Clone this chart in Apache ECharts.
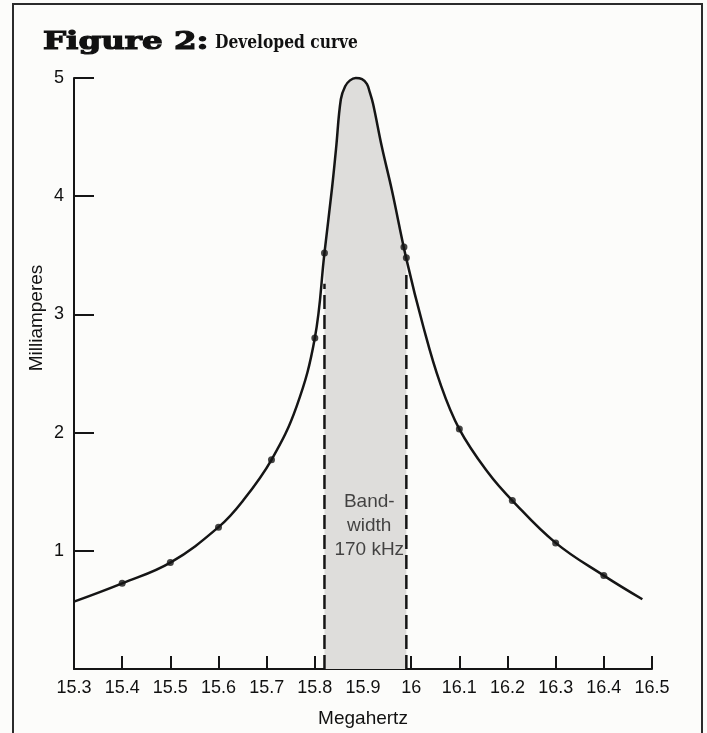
<!DOCTYPE html>
<html>
<head>
<meta charset="utf-8">
<script src="https://cdn.jsdelivr.net/npm/echarts@6/dist/echarts.min.js"></script>
<style>
  html, body { margin: 0; padding: 0; background: #fcfcfa; }
  #chart { width: 707px; height: 733px; }
</style>
</head>
<body>
<div id="chart"></div>
<script>
// Resonance curve: current (mA) against frequency (MHz)
const curveMHz = [15.30, 15.40, 15.50, 15.60, 15.65, 15.71, 15.762,
                  15.80, 15.82, 15.836, 15.844, 15.854, 15.863, 15.873, 15.885, 15.898, 15.908,
                  15.914, 15.921, 15.939, 15.960, 15.99, 16.025, 16.06, 16.10, 16.16, 16.21,
                  16.30, 16.40, 16.48];
const curveMA  = [0.57, 0.725, 0.90, 1.20, 1.42, 1.77, 2.22,
                  2.80, 3.52, 4.08, 4.40, 4.82, 4.93, 4.98, 5.00, 4.99, 4.95,
                  4.88, 4.78, 4.42, 4.05, 3.47, 2.90, 2.42, 2.03, 1.66, 1.425,
                  1.067, 0.79, 0.59];

// Measured points
const pointMHz = [15.40, 15.50, 15.60, 15.71, 15.80, 15.82, 15.985, 15.99, 16.10, 16.21, 16.30, 16.40];
const pointMA  = [0.725, 0.90, 1.20, 1.77, 2.8, 3.52, 3.57, 3.48, 2.03, 1.425, 1.067, 0.79];

// Bandwidth edges (MHz) and the height where each dashed marker stops
const bandEdgeMHz = [15.82, 15.99];
const bandDashTopMA = [3.26, 3.38];
const bandLabel = 'Band-\nwidth\n170 kHz';
const bandLabelAt = [15.913, 1.21];

const xTicks = { min: 15.3, max: 16.5, step: 0.1 };
const yTicks = { min: 0, max: 5, step: 1 };

const curveData = curveMHz.map((f, i) => [f, curveMA[i]]);
const bandData = curveData.filter(p => p[0] >= bandEdgeMHz[0] && p[0] <= bandEdgeMHz[1]);
const pointData = pointMHz.map((f, i) => [f, pointMA[i]]);

const ink = '#151515';
const sans = '"Liberation Sans", Arial, sans-serif';

const chart = echarts.init(document.getElementById('chart'), null, { renderer: 'canvas' });

const dashSeries = bandEdgeMHz.map((f, i) => ({
  type: 'line',
  data: [[f, 0], [f, bandDashTopMA[i]]],
  symbol: 'none',
  lineStyle: { color: ink, width: 2.5, type: [14, 6] },
  z: 3,
  silent: true
}));

chart.setOption({
  backgroundColor: '#fcfcfa',
  animation: false,
  grid: { left: 74, right: 55, top: 78, bottom: 55 },
  xAxis: {
    type: 'value',
    min: xTicks.min, max: xTicks.max, interval: xTicks.step,
    axisLine: { lineStyle: { color: ink, width: 2 } },
    axisTick: { inside: true, length: 13, lineStyle: { color: ink, width: 2 } },
    splitLine: { show: false },
    axisLabel: {
      color: '#111', fontFamily: sans, fontSize: 18, margin: 10,
      formatter: v => String(Number(v.toFixed(1)))
    },
    name: 'Megahertz', nameLocation: 'middle', nameGap: 40,
    nameTextStyle: { color: '#111', fontFamily: sans, fontSize: 19 }
  },
  yAxis: {
    type: 'value',
    min: yTicks.min, max: yTicks.max, interval: yTicks.step,
    axisLine: { show: true, lineStyle: { color: ink, width: 2 } },
    axisTick: { show: true, inside: true, length: 20, lineStyle: { color: ink, width: 2 } },
    splitLine: { show: false },
    axisLabel: {
      color: '#111', fontFamily: sans, fontSize: 18, margin: 10,
      formatter: v => (v === 0 ? '' : String(v))
    }
  },
  graphic: [
    // figure frame
    { type: 'polyline', shape: { points: [[13, 733], [13, 4], [702, 4], [702, 733]] },
      style: { stroke: '#2b2b2b', lineWidth: 2, fill: null }, silent: true },
    // heading
    { type: 'text', x: 43, y: 42, scaleX: 1.3,
      style: { text: 'Figure 2:', fill: '#111', font: 'bold 25px "DejaVu Serif", serif',
               verticalAlign: 'middle', stroke: '#111', lineWidth: 1.2 } },
    { type: 'text', x: 215, y: 43, scaleX: 0.86,
      style: { text: 'Developed curve', fill: '#111', font: 'bold 18px "DejaVu Serif", serif',
               verticalAlign: 'middle' } },
    // y-axis title
    { type: 'text', x: 37, y: 318, rotation: Math.PI / 2,
      style: { text: 'Milliamperes', fill: '#111', font: '19px "Liberation Sans", Arial, sans-serif',
               align: 'center', verticalAlign: 'middle' } }
  ],
  series: [
    {
      type: 'line',
      data: bandData,
      smooth: 0.4,
      symbol: 'none',
      lineStyle: { width: 0 },
      areaStyle: { color: '#dedddb', opacity: 1 },
      z: 1,
      silent: true
    },
    ...dashSeries,
    {
      type: 'line',
      data: curveData,
      smooth: 0.4,
      symbol: 'none',
      clip: false,
      lineStyle: { color: ink, width: 2.5 },
      z: 4,
      silent: true
    },
    {
      type: 'scatter',
      data: pointData,
      symbol: 'circle',
      symbolSize: 7,
      itemStyle: { color: ink },
      z: 5,
      silent: true
    },
    {
      type: 'scatter',
      data: [bandLabelAt],
      symbolSize: 1,
      itemStyle: { color: 'rgba(0,0,0,0)' },
      label: {
        show: true, position: 'inside', formatter: bandLabel,
        color: '#1a1a1a', fontFamily: sans, fontSize: 19, lineHeight: 24, align: 'center', verticalAlign: 'middle'
      },
      z: 6,
      silent: true
    }
  ]
});
</script>
</body>
</html>
